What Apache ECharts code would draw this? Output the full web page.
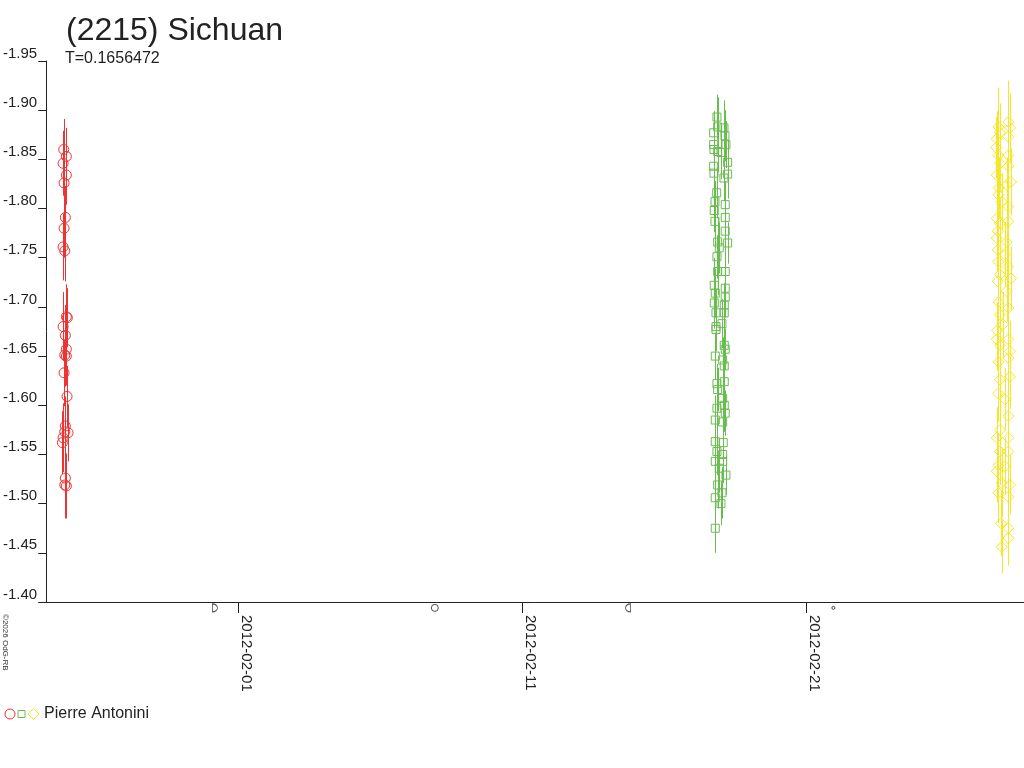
<!DOCTYPE html>
<html><head><meta charset="utf-8">
<script src="https://cdn.jsdelivr.net/npm/echarts@6/dist/echarts.min.js"></script>
<style>html,body{margin:0;padding:0;background:#fff}#c{width:1024px;height:768px}</style>
</head><body><div id="c"></div>
<script>
// ---- axes / ticks ----
const tickDays = [0, 10, 20];                 // days after 2012-02-01 00:00 UT
const tickLabels = ['2012-02-01', '2012-02-11', '2012-02-21'];
const xMinDay = -6.77, xMaxDay = 27.65;
const magMin = -1.95, magMax = -1.40, magStep = 0.05;

// ---- moon phases (days after 2012-02-01) ----
const moonDays = [-0.83, 6.91, 13.71, 20.94];
const moonPhases = ['first', 'full', 'last', 'new'];
const moonRow = -1.394;

// ---- session 1 (red) ----
const redTime = [-6.151,-6.060,-6.175,-6.060,-6.140,-6.095,-6.140,-6.175,-6.116,-6.060,-6.025,-6.175,-6.095,-6.060,-6.116,-6.060,-6.140,-6.035,-6.095,-6.116,-6.000,-6.175,-6.200,-6.095,-6.060,-6.116];
const redMag = [-1.860,-1.853,-1.846,-1.834,-1.826,-1.791,-1.780,-1.761,-1.757,-1.690,-1.689,-1.680,-1.671,-1.657,-1.651,-1.650,-1.633,-1.609,-1.579,-1.573,-1.572,-1.567,-1.562,-1.526,-1.518,-1.519];
const redErr = [0.031,0.029,0.033,0.030,0.028,0.032,0.030,0.034,0.031,0.033,0.030,0.035,0.031,0.029,0.032,0.030,0.034,0.031,0.030,0.033,0.029,0.035,0.032,0.031,0.033,0.034];

// ---- session 2 (green) ----
const greenTime = [16.842,16.867,17.088,16.726,17.123,16.726,17.158,16.737,16.867,16.982,
  17.218,16.726,16.737,17.218,17.088,16.832,16.772,17.133,16.747,16.772,
  17.133,17.133,16.867,17.218,16.923,16.842,16.867,17.133,16.747,17.133,
  16.782,17.133,16.747,17.098,16.807,17.098,16.807,17.018,16.807,17.098,
  17.133,16.782,17.042,17.098,16.842,17.098,16.867,17.042,16.842,17.098,
  17.133,16.782,17.042,16.782,17.063,16.842,17.042,16.782,17.042,16.923,
  17.158,16.867,17.018,16.782,16.982,16.782];
const greenMag = [-1.893,-1.883,-1.882,-1.877,-1.874,-1.865,-1.865,-1.860,-1.858,-1.857,
  -1.847,-1.843,-1.836,-1.835,-1.831,-1.816,-1.807,-1.804,-1.798,-1.787,
  -1.791,-1.777,-1.766,-1.765,-1.760,-1.751,-1.736,-1.736,-1.722,-1.719,
  -1.714,-1.710,-1.704,-1.702,-1.694,-1.694,-1.680,-1.683,-1.677,-1.661,
  -1.657,-1.650,-1.646,-1.640,-1.622,-1.624,-1.616,-1.607,-1.597,-1.600,
  -1.592,-1.585,-1.583,-1.563,-1.562,-1.553,-1.550,-1.543,-1.543,-1.536,
  -1.529,-1.519,-1.511,-1.506,-1.500,-1.475];
const greenErr = [0.023,0.030,0.028,0.022,0.026,0.020,0.024,0.025,0.021,0.027,
  0.022,0.024,0.020,0.025,0.023,0.026,0.021,0.024,0.022,0.027,
  0.020,0.023,0.025,0.021,0.026,0.022,0.024,0.020,0.028,0.023,
  0.025,0.021,0.026,0.022,0.024,0.023,0.020,0.025,0.022,0.027,
  0.021,0.024,0.023,0.026,0.020,0.025,0.022,0.024,0.021,0.027,
  0.023,0.025,0.022,0.026,0.021,0.024,0.023,0.028,0.022,0.025,
  0.020,0.024,0.026,0.023,0.022,0.025];

// ---- session 3 (yellow) ----
const yellowTime = [26.747,27.098,26.807,27.158,26.691,27.098,26.667,26.747,27.098,26.807,
  27.098,26.691,27.193,27.042,26.772,26.747,26.867,27.098,26.691,26.807,
  27.098,26.726,26.691,27.042,26.726,26.982,26.747,27.098,26.807,27.193,
  26.726,27.042,26.747,27.098,26.807,26.912,26.702,26.691,27.098,26.807,
  27.158,27.098,26.747,26.807,27.158,26.747,26.982,27.098,26.807,26.691,
  27.098,26.807,27.098,26.747,26.982,26.691,26.867,27.158,26.747,27.098,
  26.842,27.098,27.098,26.867];
const yellowMag = [-1.883,-1.888,-1.877,-1.882,-1.871,-1.873,-1.862,-1.854,-1.854,-1.846,
  -1.843,-1.834,-1.827,-1.824,-1.821,-1.814,-1.807,-1.802,-1.790,-1.785,
  -1.787,-1.777,-1.770,-1.766,-1.758,-1.753,-1.746,-1.741,-1.733,-1.729,
  -1.726,-1.716,-1.705,-1.699,-1.692,-1.682,-1.676,-1.667,-1.667,-1.661,
  -1.655,-1.648,-1.644,-1.626,-1.629,-1.612,-1.606,-1.589,-1.575,-1.567,
  -1.567,-1.553,-1.553,-1.539,-1.538,-1.533,-1.521,-1.519,-1.511,-1.507,
  -1.480,-1.475,-1.465,-1.456];
const yellowErr = [0.040,0.042,0.030,0.035,0.028,0.033,0.031,0.027,0.036,0.029,
  0.032,0.030,0.034,0.028,0.031,0.033,0.029,0.035,0.030,0.027,
  0.032,0.029,0.034,0.031,0.028,0.033,0.030,0.035,0.029,0.032,
  0.027,0.031,0.034,0.030,0.028,0.033,0.029,0.032,0.035,0.030,
  0.031,0.028,0.034,0.030,0.033,0.029,0.032,0.036,0.030,0.031,
  0.028,0.034,0.030,0.033,0.029,0.032,0.035,0.030,0.031,0.029,
  0.033,0.030,0.028,0.027];

const observer = 'Pierre Antonini';
const titleText = '(2215) Sichuan';
const periodText = 'T=0.1656472';
const copyrightText = '©2026 OdG-RB';

const RED = '#ee3333', GREEN = '#69bd4f', YELLOW = '#f6e626', INK = '#222';
const FONT = 'Liberation Sans, Arial, sans-serif';

function zip3(t, m, e) { return t.map((v, i) => [v, m[i], e[i]]); }

function errSeries(t, m, e, color) {
  return {
    type: 'custom', silent: true, animation: false,
    data: zip3(t, m, e), encode: { x: 0, y: 1 },
    renderItem: function (params, api) {
      const x = api.value(0), v = api.value(1), er = api.value(2);
      const a = api.coord([x, v - er]), b = api.coord([x, v + er]);
      const px = Math.round(a[0]) + 0.5;
      return { type: 'line', shape: { x1: px, y1: a[1], x2: px, y2: b[1] },
               style: { stroke: color, lineWidth: 1 } };
    }
  };
}
function ptSeries(name, t, m, color, symbol, size) {
  return {
    name: name, type: 'scatter', animation: false, symbol: symbol, symbolSize: size,
    data: t.map((v, i) => [v, m[i]]),
    itemStyle: { color: 'rgba(0,0,0,0)', borderColor: color, borderWidth: 1, opacity: 1 },
    emphasis: { disabled: true }
  };
}

const moonSymbols = {
  first: { symbol: 'path://M0,0 L0,10 A5,5 0 0 0 0,0 Z', size: [5, 8] },
  full:  { symbol: 'circle', size: 7 },
  last:  { symbol: 'path://M10,0 L10,10 A5,5 0 0 1 10,0 Z', size: [5, 8] },
  new:   { symbol: 'circle', size: 3 }
};

const chart = echarts.init(document.getElementById('c'), null, { renderer: 'canvas' });
chart.setOption({
  animation: false,
  backgroundColor: '#fff',
  textStyle: { fontFamily: FONT },
  title: [
    { text: titleText, left: 66, top: 15, padding: 0,
      textStyle: { fontSize: 32, fontWeight: 'normal', color: INK, fontFamily: FONT } },
    { text: periodText, left: 65, top: 51, padding: 0,
      textStyle: { fontSize: 16, fontWeight: 'normal', color: INK, fontFamily: FONT } }
  ],
  grid: { left: 43, right: 0, top: 61, bottom: 166, containLabel: false },
  xAxis: {
    type: 'value', min: xMinDay, max: xMaxDay,
    axisLine: { show: true, onZero: false, lineStyle: { color: INK, width: 1 } },
    axisTick: { show: true, length: 11, customValues: tickDays, lineStyle: { color: INK } },
    axisLabel: {
      customValues: tickDays, rotate: -90, margin: 13, fontSize: 15, color: INK,
      fontFamily: FONT, verticalAlign: 'bottom',
      formatter: function (v) { const i = tickDays.indexOf(Math.round(v)); return i >= 0 ? tickLabels[i] : ''; }
    },
    splitLine: { show: false }
  },
  yAxis: {
    type: 'value', inverse: true, min: magMin, max: magMax, interval: magStep,
    axisLine: { show: true, onZero: false, lineStyle: { color: INK, width: 1 } },
    axisTick: { show: true, length: 8, lineStyle: { color: INK } },
    axisLabel: { fontSize: 15, color: INK, margin: 9, verticalAlign: 'bottom', fontFamily: FONT,
      formatter: function (v) { return v.toFixed(2); } },
    splitLine: { show: false }
  },
  series: [
    errSeries(redTime, redMag, redErr, RED),
    errSeries(greenTime, greenMag, greenErr, GREEN),
    errSeries(yellowTime, yellowMag, yellowErr, YELLOW),
    ptSeries('s1', redTime, redMag, RED, 'circle', 10),
    ptSeries('s2', greenTime, greenMag, GREEN, 'rect', 8),
    ptSeries('s3', yellowTime, yellowMag, YELLOW, 'diamond', 11),
    {
      name: 'moon', type: 'scatter', animation: false, clip: false, silent: true,
      data: moonDays.map((d, i) => ({ value: [d, moonRow],
        symbol: moonSymbols[moonPhases[i]].symbol, symbolSize: moonSymbols[moonPhases[i]].size })),
      itemStyle: { color: 'rgba(0,0,0,0)', borderColor: INK, borderWidth: 1 }
    }
  ],
  graphic: [
    { type: 'text', x: 1, y: 614, rotation: -Math.PI / 2,
      style: { text: copyrightText, fontSize: 8, fill: '#333', font: '8px ' + FONT,
               align: 'left', verticalAlign: 'bottom' } },
    { type: 'circle', shape: { cx: 10, cy: 714, r: 5 }, style: { fill: 'none', stroke: RED, lineWidth: 1 } },
    { type: 'rect', shape: { x: 18, y: 710.5, width: 7, height: 7 }, style: { fill: 'none', stroke: GREEN, lineWidth: 1 } },
    { type: 'polygon', shape: { points: [[33.5, 708.5], [39, 714], [33.5, 719.5], [28, 714]] },
      style: { fill: 'none', stroke: YELLOW, lineWidth: 1 } },
    { type: 'text', x: 44, y: 714,
      style: { text: observer, font: '16px ' + FONT, fill: INK, verticalAlign: 'middle', align: 'left' } }
  ]
});
</script>
</body></html>
